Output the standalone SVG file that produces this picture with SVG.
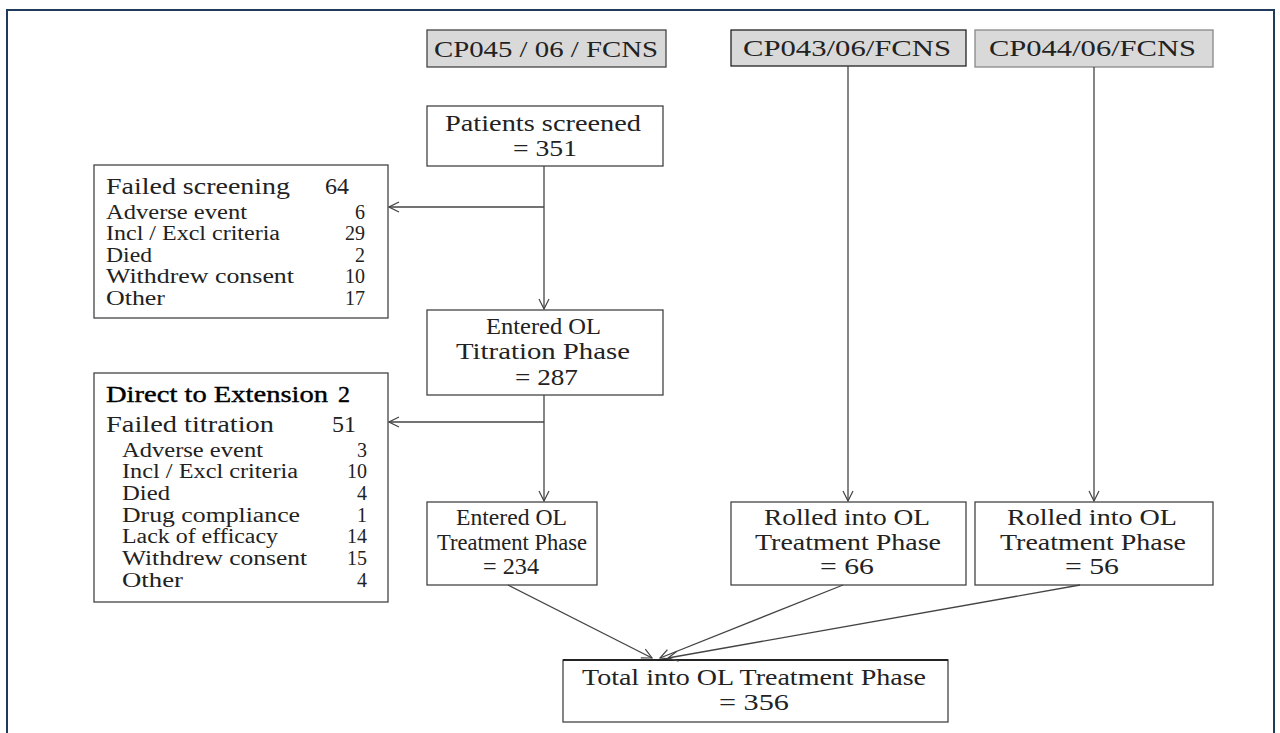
<svg xmlns="http://www.w3.org/2000/svg" width="1280" height="733" viewBox="0 0 1280 733">
<defs>
<marker id="arr" viewBox="0 0 12 12" refX="11" refY="6" markerWidth="12" markerHeight="12" markerUnits="userSpaceOnUse" orient="auto">
<path d="M1,1 L11,6 L1,11" fill="none" stroke="#444" stroke-width="1.2"/>
</marker>
<style>
.box{fill:#fff;stroke:#444;stroke-width:1.3}
.hdr{fill:#d9d9d9;stroke:#444;stroke-width:1.3}
.t{font-family:"Liberation Serif","DejaVu Serif",serif;font-size:23px;fill:#222}
.h{font-family:"Liberation Serif","DejaVu Serif",serif;font-size:24px;fill:#222}
.s{font-family:"Liberation Serif","DejaVu Serif",serif;font-size:20px;fill:#222}
.e{text-anchor:end}
.c{fill:none;stroke:#444;stroke-width:1.3}
</style>
</defs>
<rect x="0" y="0" width="1280" height="733" fill="#fff"/>
<rect x="7" y="10" width="1267" height="730" fill="#fff" stroke="#1f3a5a" stroke-width="2"/>

<g id="cp045">
<rect class="hdr" x="427" y="30" width="239" height="37"/>
<text class="h" x="434" y="57" textLength="224" lengthAdjust="spacingAndGlyphs">CP045 / 06 / FCNS</text>
</g>
<g id="cp043">
<rect class="hdr" x="731" y="30" width="235" height="36" style="stroke:#222"/>
<text class="h" x="743" y="56" textLength="208" lengthAdjust="spacingAndGlyphs">CP043/06/FCNS</text>
</g>
<g id="cp044">
<rect class="hdr" x="975" y="30" width="238" height="37" style="stroke:#888"/>
<text class="h" x="989" y="56" textLength="207" lengthAdjust="spacingAndGlyphs">CP044/06/FCNS</text>
</g>

<g id="screened">
<rect class="box" x="427" y="106" width="236" height="60"/>
<text class="t" x="445" y="131" textLength="196" lengthAdjust="spacingAndGlyphs">Patients screened</text>
<text class="t" x="513" y="156" textLength="64" lengthAdjust="spacingAndGlyphs">= 351</text>
</g>

<g id="failed-screening">
<rect class="box" x="94" y="165" width="294" height="153"/>
<text class="h" x="106" y="194" textLength="184" lengthAdjust="spacingAndGlyphs">Failed screening</text>
<text class="h" x="325" y="194">64</text>
<text class="s" x="106" y="219" textLength="141" lengthAdjust="spacingAndGlyphs">Adverse event</text><text class="s e" x="365" y="219">6</text>
<text class="s" x="106" y="240" textLength="174" lengthAdjust="spacingAndGlyphs">Incl / Excl criteria</text><text class="s e" x="365" y="240">29</text>
<text class="s" x="106" y="262" textLength="46" lengthAdjust="spacingAndGlyphs">Died</text><text class="s e" x="365" y="262">2</text>
<text class="s" x="106" y="283" textLength="188" lengthAdjust="spacingAndGlyphs">Withdrew consent</text><text class="s e" x="365" y="283">10</text>
<text class="s" x="106" y="305" textLength="59" lengthAdjust="spacingAndGlyphs">Other</text><text class="s e" x="365" y="305">17</text>
</g>

<g id="titration">
<rect class="box" x="427" y="310" width="236" height="85"/>
<text class="t" x="486" y="334" textLength="115" lengthAdjust="spacingAndGlyphs">Entered OL</text>
<text class="t" x="456" y="359" textLength="174" lengthAdjust="spacingAndGlyphs">Titration Phase</text>
<text class="t" x="515" y="385" textLength="63" lengthAdjust="spacingAndGlyphs">= 287</text>
</g>

<g id="failed-titration">
<rect class="box" x="94" y="373" width="294" height="229"/>
<text class="h" x="106" y="402" textLength="222" lengthAdjust="spacingAndGlyphs" style="fill:#000;stroke:#000;stroke-width:0.4">Direct to Extension</text>
<text class="h" x="338" y="402" style="fill:#000;stroke:#000;stroke-width:0.4">2</text>
<text class="h" x="106" y="432" textLength="168" lengthAdjust="spacingAndGlyphs">Failed titration</text>
<text class="h" x="332" y="432">51</text>
<text class="s" x="122" y="457" textLength="141" lengthAdjust="spacingAndGlyphs">Adverse event</text><text class="s e" x="367" y="457">3</text>
<text class="s" x="122" y="478" textLength="176" lengthAdjust="spacingAndGlyphs">Incl / Excl criteria</text><text class="s e" x="367" y="478">10</text>
<text class="s" x="122" y="500" textLength="48" lengthAdjust="spacingAndGlyphs">Died</text><text class="s e" x="367" y="500">4</text>
<text class="s" x="122" y="522" textLength="178" lengthAdjust="spacingAndGlyphs">Drug compliance</text><text class="s e" x="367" y="522">1</text>
<text class="s" x="122" y="543" textLength="156" lengthAdjust="spacingAndGlyphs">Lack of efficacy</text><text class="s e" x="367" y="543">14</text>
<text class="s" x="122" y="565" textLength="185" lengthAdjust="spacingAndGlyphs">Withdrew consent</text><text class="s e" x="367" y="565">15</text>
<text class="s" x="122" y="587" textLength="61" lengthAdjust="spacingAndGlyphs">Other</text><text class="s e" x="367" y="587">4</text>
</g>

<g id="treatment045">
<rect class="box" x="427" y="502" width="170" height="83"/>
<text class="t" x="456" y="525" textLength="111" lengthAdjust="spacingAndGlyphs">Entered OL</text>
<text class="t" x="437" y="550" textLength="150" lengthAdjust="spacingAndGlyphs">Treatment Phase</text>
<text class="t" x="483" y="574" textLength="56" lengthAdjust="spacingAndGlyphs">= 234</text>
</g>
<g id="treatment043">
<rect class="box" x="731" y="502" width="235" height="83"/>
<text class="t" x="764" y="525" textLength="166" lengthAdjust="spacingAndGlyphs">Rolled into OL</text>
<text class="t" x="755" y="550" textLength="186" lengthAdjust="spacingAndGlyphs">Treatment Phase</text>
<text class="t" x="820" y="574" textLength="54" lengthAdjust="spacingAndGlyphs">= 66</text>
</g>
<g id="treatment044">
<rect class="box" x="975" y="502" width="238" height="83"/>
<text class="t" x="1007" y="525" textLength="170" lengthAdjust="spacingAndGlyphs">Rolled into OL</text>
<text class="t" x="1000" y="550" textLength="186" lengthAdjust="spacingAndGlyphs">Treatment Phase</text>
<text class="t" x="1065" y="574" textLength="54" lengthAdjust="spacingAndGlyphs">= 56</text>
</g>

<g id="total">
<rect class="box" x="563" y="660" width="385" height="62"/>
<line x1="563" y1="660" x2="948" y2="660" stroke="#222" stroke-width="2"/>
<text class="t" x="582" y="685" textLength="344" lengthAdjust="spacingAndGlyphs">Total into OL Treatment Phase</text>
<text class="t" x="719" y="710" textLength="70" lengthAdjust="spacingAndGlyphs">= 356</text>
</g>

<g id="connectors">
<line class="c" x1="544" y1="166" x2="544" y2="309" marker-end="url(#arr)"/>
<line class="c" x1="544" y1="207" x2="389" y2="207" marker-end="url(#arr)"/>
<line class="c" x1="544" y1="395" x2="544" y2="501" marker-end="url(#arr)"/>
<line class="c" x1="544" y1="422" x2="389" y2="422" marker-end="url(#arr)"/>
<line class="c" x1="848" y1="66" x2="848" y2="501" marker-end="url(#arr)"/>
<line class="c" x1="1094" y1="67" x2="1094" y2="501" marker-end="url(#arr)"/>
<line class="c" x1="508" y1="585" x2="652" y2="658" marker-end="url(#arr)"/>
<line class="c" x1="843" y1="585" x2="660" y2="658" marker-end="url(#arr)"/>
<line class="c" x1="1080" y1="585" x2="668" y2="658" marker-end="url(#arr)"/>
</g>
</svg>
